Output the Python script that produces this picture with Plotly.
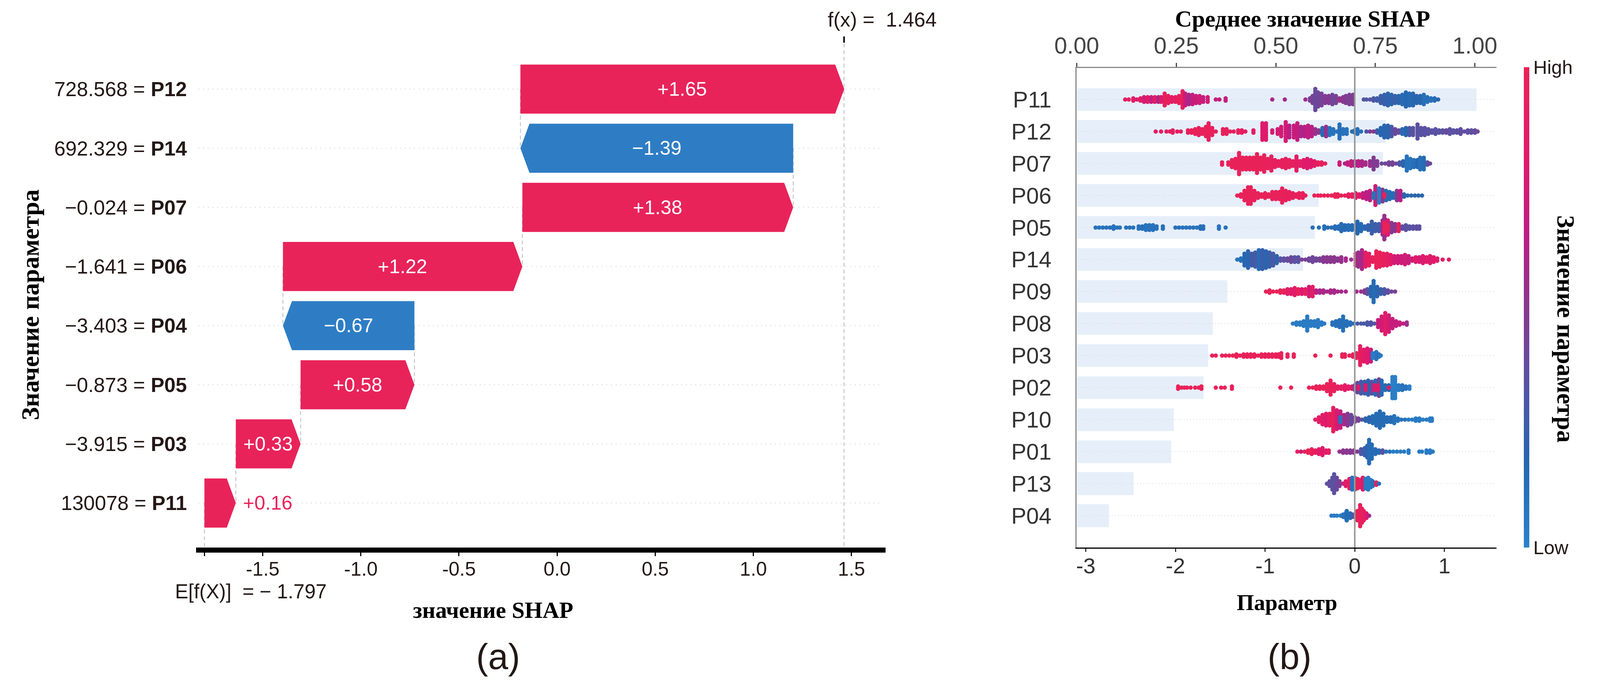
import plotly.graph_objects as go

W, H = 4443, 1786
RED, BLUE = "#e8235a", "#2e7dc4"
SANS, SERIF = "Liberation Sans", "Liberation Serif"

# ---------- panel (a): waterfall, top row first ----------
wf_features = ["P12", "P14", "P07", "P06", "P04", "P05", "P03", "P11"]
wf_feature_values = ["728.568", "692.329", "−0.024", "−1.641", "−3.403", "−0.873", "−3.915", "130078"]
wf_shap = [1.65, -1.39, 1.38, 1.22, -0.67, 0.58, 0.33, 0.16]
wf_labels = ["+1.65", "−1.39", "+1.38", "+1.22", "−0.67", "+0.58", "+0.33", "+0.16"]
base_value = -1.797
fx_value = 1.464
wf_ticks = [-1.5, -1.0, -0.5, 0.0, 0.5, 1.0, 1.5]
wf_ticktext = ["-1.5", "-1.0", "-0.5", "0.0", "0.5", "1.0", "1.5"]

# ---------- panel (b): summary, top row first ----------
rows = ["P11", "P12", "P07", "P06", "P05", "P14", "P09", "P08", "P03", "P02", "P10", "P01", "P13", "P04"]
mean_shap = [1.005, 0.777, 0.769, 0.608, 0.598, 0.569, 0.379, 0.342, 0.331, 0.319, 0.244, 0.237, 0.143, 0.081]
mean_ticks = [0, 0.25, 0.5, 0.75, 1.0]
shap_ticks = [-3, -2, -1, 0, 1]

P11_x = [-2.56,-2.52,-2.47,-2.43,-2.39,-2.35,-2.31,-2.27,-2.23,-2.19,-2.16,-2.12,-2.08,-2.04,-2.0,-1.96,-1.92,-1.89,-1.85,-1.81,-1.77,-1.73,-1.69,-1.64,-1.55,-1.51,-1.44,-0.92,-0.78,-0.55,-0.5,-0.47,-0.44,-0.41,-0.37,-0.33,-0.29,-0.25,-0.21,-0.17,-0.13,-0.1,-0.06,-0.02,0.1,0.13,0.17,0.21,0.25,0.29,0.33,0.37,0.41,0.45,0.49,0.53,0.57,0.61,0.65,0.69,0.73,0.77,0.81,0.85,0.89,0.93]
P11_n = [1,1,2,1,2,3,3,3,3,3,3,6,4,3,3,4,8,6,5,5,4,4,3,3,1,1,2,1,1,1,2,4,10,7,6,4,4,5,4,2,3,4,5,5,1,1,1,2,2,4,5,6,5,4,4,5,7,6,6,4,4,5,3,2,2,1]
P11_c = [.85,.9,.85,.8,.85,.75,.8,.7,.85,.6,.8,.95,.9,.9,.9,.95,.95,.7,.6,.7,.7,.75,.7,.75,.7,.7,.7,.6,.6,.55,.45,.45,.4,.42,.45,.48,.5,.42,.45,.55,.5,.48,.45,.48,.32,.32,.35,.3,.28,.25,.25,.2,.22,.25,.2,.15,.18,.15,.2,.18,.2,.12,.12,.12,.15,.2]

P12_x = [-2.22,-2.16,-2.1,-2.06,-2.03,-1.98,-1.94,-1.86,-1.82,-1.78,-1.74,-1.7,-1.66,-1.63,-1.59,-1.55,-1.47,-1.43,-1.39,-1.35,-1.3,-1.26,-1.22,-1.13,-1.03,-0.99,-0.92,-0.86,-0.82,-0.77,-0.73,-0.68,-0.64,-0.6,-0.56,-0.52,-0.48,-0.44,-0.4,-0.36,-0.32,-0.28,-0.24,-0.2,-0.17,-0.13,-0.09,-0.03,0,0.03,0.07,0.13,0.17,0.21,0.25,0.29,0.33,0.37,0.41,0.45,0.49,0.53,0.57,0.61,0.65,0.7,0.74,0.78,0.82,0.86,0.9,0.94,0.98,1.02,1.06,1.1,1.14,1.18,1.22,1.26,1.3,1.34,1.37]
P12_n = [1,1,1,1,2,1,1,2,2,3,4,3,5,8,4,1,3,3,1,1,2,2,1,2,8,8,2,3,5,9,6,6,8,5,5,6,5,3,2,4,5,4,3,1,7,3,3,1,2,3,1,1,1,1,2,4,6,6,5,3,2,3,4,4,4,7,4,4,3,2,3,2,2,2,3,2,2,3,1,2,2,2,1]
P12_c = [.85,.88,.9,.9,.92,.9,.9,.98,.98,.98,.95,.95,.95,.95,.96,.95,.95,.95,.9,.9,.95,.9,.9,.85,.8,.8,.75,.75,.75,.75,.65,.7,.7,.6,.65,.68,.65,.55,.5,.15,.55,.1,.1,.1,.12,.1,.1,.15,.15,.12,.12,.3,.5,.5,.25,.18,.2,.2,.3,.4,.4,.15,.2,.3,.35,.35,.35,.35,.35,.35,.35,.35,.35,.4,.35,.35,.35,.38,.35,.38,.35,.4,.4]

P07_x = [-1.48,-1.41,-1.37,-1.33,-1.29,-1.25,-1.21,-1.17,-1.13,-1.09,-1.05,-1.01,-0.97,-0.93,-0.89,-0.85,-0.81,-0.77,-0.73,-0.69,-0.65,-0.61,-0.57,-0.53,-0.49,-0.45,-0.41,-0.37,-0.33,-0.17,-0.11,-0.08,-0.04,0,0.04,0.08,0.12,0.17,0.21,0.25,0.3,0.34,0.38,0.42,0.46,0.5,0.54,0.58,0.62,0.66,0.7,0.73,0.77,0.81,0.84]
P07_n = [2,2,4,5,10,6,6,6,6,9,6,8,5,7,4,3,4,5,4,3,7,3,4,5,4,3,2,2,1,2,1,2,3,3,3,3,2,3,6,3,1,1,2,2,1,2,3,7,5,4,4,6,6,2,1]
P07_c = [.95,.98,.98,.98,.98,.98,.98,.98,.98,.98,.98,.97,.97,.95,.93,.93,.93,.95,.93,.93,.88,.9,.8,.8,.8,.85,.93,.95,.93,.72,.6,.7,.7,.6,.65,.6,.6,.55,.48,.48,.42,.42,.42,.45,.4,.3,.2,.1,.1,.12,.2,.12,.15,.35,.4]

P06_x = [-1.31,-1.27,-1.23,-1.19,-1.16,-1.12,-1.08,-1.04,-1,-0.96,-0.92,-0.88,-0.84,-0.81,-0.77,-0.73,-0.69,-0.65,-0.62,-0.58,-0.55,-0.45,-0.41,-0.38,-0.34,-0.3,-0.26,-0.22,-0.19,-0.15,-0.11,-0.07,-0.03,0.01,0.05,0.09,0.13,0.17,0.23,0.27,0.31,0.35,0.39,0.43,0.47,0.51,0.55,0.59,0.63,0.67,0.71,0.75,0.21,0.27,0.33]
P06_n = [1,2,5,8,8,5,3,2,3,2,4,4,4,7,5,4,3,2,3,3,1,1,1,1,1,1,1,2,2,1,1,2,2,3,2,3,4,5,9,6,6,5,4,3,5,5,2,1,1,1,1,1,3,7,2]
P06_c = [.98,.98,.98,.98,.98,.98,.98,.98,.98,.98,.97,.97,.98,.97,.95,.95,.95,.95,.97,.95,.95,.98,.98,.98,.98,.98,1,1,1,.95,.95,.93,.93,.85,.8,.7,.65,.65,.72,.4,.5,.15,.15,.15,.5,.65,.2,.2,.2,.2,.2,.2,.1,.03,.98]

P05_x = [-2.89,-2.85,-2.81,-2.77,-2.73,-2.69,-2.65,-2.62,-2.55,-2.51,-2.47,-2.41,-2.37,-2.33,-2.29,-2.25,-2.21,-2.14,-2.0,-1.96,-1.92,-1.88,-1.84,-1.8,-1.76,-1.72,-1.69,-1.515,-1.44,-0.47,-0.4,-0.34,-0.3,-0.26,-0.22,-0.18,-0.15,-0.11,-0.07,-0.03,0.03,0.07,0.11,0.15,0.19,0.23,0.27,0.3,0.31,0.34,0.33,0.37,0.41,0.45,0.49,0.53,0.57,0.61,0.65,0.69,0.72,0.33,0.37]
P05_n = [1,1,1,1,1,2,1,1,1,1,1,2,2,3,3,3,2,2,1,1,1,1,1,1,1,2,2,2,1,1,1,2,1,1,2,2,4,3,3,3,6,4,2,3,6,4,4,2,7,8,11,7,5,4,4,2,3,2,2,2,2,5,3]
P05_c = [.1,.1,.1,.1,.12,.1,.1,.1,.1,.1,.1,.1,.12,.1,.1,.1,.1,.12,.12,.12,.1,.1,.1,.1,.1,.12,.12,.1,.1,.12,.12,.12,.15,.15,.15,.15,.15,.16,.15,.15,.18,.16,.2,.22,.25,.25,.28,.3,.6,.7,.55,.8,.5,.5,.95,.38,.35,.35,.35,.38,.35,.98,.98]

P14_x = [-1.31,-1.27,-1.23,-1.19,-1.15,-1.11,-1.07,-1.03,-0.99,-0.95,-0.91,-0.87,-0.83,-0.79,-0.75,-0.71,-0.67,-0.63,-0.59,-0.55,-0.51,-0.47,-0.43,-0.39,-0.35,-0.31,-0.27,-0.23,-0.19,-0.15,-0.1,-0.04,0.01,0.04,0.08,0.12,0.16,0.2,0.24,0.28,0.32,0.36,0.4,0.44,0.48,0.52,0.56,0.6,0.64,0.68,0.72,0.76,0.8,0.84,0.88,0.92,0.98,1.05]
P14_n = [1,2,6,8,6,7,9,9,8,7,6,4,2,2,2,3,3,3,1,1,2,3,2,2,3,3,3,3,2,3,2,1,6,7,9,7,6,3,8,7,6,6,5,4,4,4,5,4,2,3,3,4,3,4,3,2,1,1]
P14_c = [.1,.12,.18,.2,.25,.3,.15,.25,.2,.25,.3,.2,.35,.35,.4,.4,.35,.35,.45,.45,.42,.42,.42,.45,.5,.5,.5,.52,.5,.55,.6,.55,.8,.55,.6,.9,.9,.95,.98,.98,.95,.9,.85,.75,.75,.72,.75,.7,.75,.8,.78,.78,.82,.8,.82,.85,.92,.9]

P09_x = [-0.99,-0.95,-0.91,-0.87,-0.83,-0.79,-0.75,-0.71,-0.67,-0.63,-0.59,-0.55,-0.51,-0.47,-0.43,-0.39,-0.35,-0.31,-0.27,-0.23,-0.19,-0.15,-0.1,0.02,0.07,0.11,0.14,0.18,0.21,0.25,0.29,0.33,0.37,0.41,0.45]
P09_n = [1,2,1,1,2,2,3,3,4,3,3,3,5,5,2,2,2,1,2,2,1,1,1,1,1,2,3,5,10,5,3,3,2,1,1]
P09_c = [.98,.98,.98,.98,.97,.97,.88,.85,.85,.95,.8,.9,.75,.85,.65,.6,.6,.6,.6,.6,.6,.6,.6,.6,.55,.5,.35,.2,.15,.2,.25,.3,.38,.42,.45]

P08_x = [-0.69,-0.65,-0.61,-0.57,-0.53,-0.49,-0.45,-0.41,-0.37,-0.34,-0.25,-0.21,-0.17,-0.13,-0.09,-0.05,-0.01,0.03,0.07,0.1,0.14,0.18,0.22,0.26,0.3,0.34,0.38,0.42,0.46,0.5,0.54,0.58]
P08_n = [1,2,2,3,7,3,3,4,2,1,2,3,4,7,3,2,1,1,1,1,2,2,1,4,7,10,8,5,3,2,1,2]
P08_c = [.05,.05,.05,.05,.05,.05,.05,.05,.05,.05,.12,.12,.12,.12,.12,.12,.15,.3,.28,.3,.3,.32,.35,.7,.75,.85,.75,.7,.7,.7,.7,.55]

P03_x = [-1.59,-1.55,-1.48,-1.44,-1.4,-1.36,-1.32,-1.28,-1.24,-1.2,-1.16,-1.12,-1.08,-1.04,-1,-0.96,-0.92,-0.88,-0.85,-0.82,-0.75,-0.68,-0.44,-0.27,-0.14,-0.11,-0.06,-0.02,0.02,0.06,0.1,0.14,0.18,0.24,0.27,0.29,0.2]
P03_n = [1,1,1,1,1,1,2,1,2,2,2,2,1,2,2,2,2,2,2,3,2,2,1,1,2,2,1,2,3,9,6,7,6,4,2,1,3]
P03_c = [.98,.98,.98,.98,.98,.98,.98,.97,.98,.98,.98,.98,.98,.98,.97,.98,.97,.98,.98,.97,.95,.98,.98,.98,.98,.98,.98,.95,.95,.9,.85,.8,.7,.1,.1,.05,.05]

P02_x = [-1.97,-1.93,-1.9,-1.87,-1.83,-1.78,-1.74,-1.71,-1.55,-1.49,-1.45,-1.37,-0.83,-0.71,-0.51,-0.47,-0.43,-0.39,-0.35,-0.31,-0.27,-0.23,-0.19,-0.15,-0.11,-0.07,-0.03,0,0.03,0.07,0.11,0.15,0.19,0.23,0.27,0.3,0.34,0.38,0.42,0.45,0.49,0.53,0.57,0.61,0.04,0.12,0.22,0.26,0.38]
P02_n = [2,1,1,1,1,1,1,2,1,1,1,2,1,1,1,1,2,2,2,4,7,4,2,2,3,2,2,3,5,6,6,7,6,7,8,7,3,3,10,10,3,3,2,2,2,3,3,3,1]
P02_c = [.98,.98,.98,.98,.98,.98,.98,.98,.98,.98,.98,.98,.98,.98,.98,.98,.98,.98,.98,.98,.98,.95,.95,.9,.85,.85,.8,.45,.4,.3,.25,.2,.4,.15,.45,.15,.15,.2,.02,.03,.05,.1,.1,.03,.8,.8,.8,.8,.9]

P10_x = [-0.44,-0.4,-0.36,-0.32,-0.28,-0.24,-0.2,-0.16,-0.12,-0.08,-0.04,0,0.04,0.08,0.12,0.16,0.2,0.24,0.28,0.32,0.36,0.4,0.44,0.48,0.52,0.56,0.6,0.64,0.68,0.72,0.76,0.8,0.84,0.86,-0.16]
P10_n = [1,3,5,6,6,11,9,8,5,6,5,3,2,1,2,3,4,6,8,6,3,3,4,2,1,1,1,1,2,2,1,1,2,2,3]
P10_c = [.9,.85,.85,.8,.9,.95,.75,.7,.6,.5,.4,.45,.45,.35,.2,.2,.15,.15,.15,.15,.15,.15,.1,.1,.1,.1,.05,.05,.05,.05,.05,.05,.05,.05,.1]

P01_x = [-0.64,-0.6,-0.56,-0.52,-0.48,-0.44,-0.4,-0.36,-0.32,-0.29,-0.17,-0.13,-0.09,-0.05,-0.01,0.03,0.07,0.11,0.14,0.16,0.19,0.23,0.27,0.31,0.35,0.39,0.43,0.47,0.51,0.55,0.6,0.72,0.75,0.8,0.84,0.87]
P01_n = [1,1,1,2,3,2,3,4,2,2,1,2,2,2,2,1,3,4,6,11,7,3,2,2,1,1,1,1,1,1,2,1,1,2,2,1]
P01_c = [.95,.7,.98,.98,.98,.9,.85,.8,.85,.9,.55,.5,.5,.5,.5,.5,.3,.25,.2,.15,.15,.15,.15,.35,.1,.1,.05,.05,.05,.05,.05,.05,.05,.05,.05,.05]

P13_x = [-0.31,-0.28,-0.25,-0.23,-0.2,-0.17,-0.13,-0.1,-0.06,-0.03,0,0.03,0.06,0.09,0.12,0.15,0.18,0.2,0.24,0.27]
P13_n = [1,3,6,9,6,3,1,3,5,6,6,5,4,6,5,6,4,3,2,1]
P13_c = [.35,.38,.35,.35,.4,.45,.7,.85,.9,.1,.1,.95,.95,.8,.05,.05,.05,.1,.95,.1]

P04_x = [-0.26,-0.23,-0.2,-0.16,-0.13,-0.1,-0.09,-0.05,-0.02,0.01,0.03,0.06,0.08,0.1,0.13,0.16]
P04_n = [1,1,1,1,2,3,5,3,2,2,5,10,7,5,3,1]
P04_c = [.05,.05,.05,.05,.1,.1,.15,.15,.3,.5,.95,.95,.95,.9,.8,.6]

swarm_x = [P11_x,P12_x,P07_x,P06_x,P05_x,P14_x,P09_x,P08_x,P03_x,P02_x,P10_x,P01_x,P13_x,P04_x]
swarm_n = [P11_n,P12_n,P07_n,P06_n,P05_n,P14_n,P09_n,P08_n,P03_n,P02_n,P10_n,P01_n,P13_n,P04_n]
swarm_c = [P11_c,P12_c,P07_c,P06_c,P05_c,P14_c,P09_c,P08_c,P03_c,P02_c,P10_c,P01_c,P13_c,P04_c]

SCALE = [[0,"#2b82cb"],[.18,"#2567b0"],[.35,"#5a52a2"],[.5,"#88388f"],[.65,"#b91f85"],[.8,"#df1a6c"],[1,"#ea2257"]]

def fx(p): return p / W
def fy(p): return 1 - p / H

fig = go.Figure()

# ---- panel (a) ----
A = dict(xaxis="x", yaxis="y", showlegend=False, hoverinfo="skip")
HALF, HEAD = 0.415, 0.046
n = len(wf_shap)
ends = []
cur = base_value
for v in reversed(wf_shap):
    ends.append((cur, cur + v))
    cur += v
ends = ends[::-1]

for i in range(n):
    fig.add_trace(go.Scatter(x=[-1.827, 1.646], y=[i, i], mode="lines",
                             line=dict(color="#d4d4d4", width=2.5, dash="2px,10px"), **A))
CONN = dict(color="#c4c8c8", width=2.5, dash="10px,7px")
for i in range(n - 1):
    fig.add_trace(go.Scatter(x=[ends[i][0]] * 2, y=[i, i + 1], mode="lines", line=CONN, **A))
fig.add_trace(go.Scatter(x=[fx_value - 0.002] * 2, y=[-0.77, 7.76], mode="lines", line=CONN, **A))
fig.add_trace(go.Scatter(x=[base_value] * 2, y=[n - 1, 7.76], mode="lines", line=CONN, **A))
fig.add_trace(go.Scatter(x=[fx_value - 0.002] * 2, y=[-0.89, -0.785], mode="lines",
                         line=dict(color="#000", width=4), **A))
for i, (s, e) in enumerate(ends):
    if wf_shap[i] > 0:
        flat = max(s, e - HEAD)
    else:
        flat = min(s, e + HEAD)
    xs = [s, flat, e, flat, s, s]
    ys = [i - HALF, i - HALF, i, i + HALF, i + HALF, i - HALF]
    fig.add_trace(go.Scatter(x=xs, y=ys, mode="lines", fill="toself",
                             fillcolor=RED if wf_shap[i] > 0 else BLUE,
                             line=dict(width=0), **A))

annos = []
for i, (s, e) in enumerate(ends):
    if abs(wf_shap[i]) > 0.2:
        annos.append(dict(x=(s + e) / 2, y=i, xref="x", yref="y", text=wf_labels[i], showarrow=False,
                          font=dict(family=SANS, size=50, color="white")))
    else:
        annos.append(dict(x=e, y=i, xref="x", yref="y", text=wf_labels[i], showarrow=False, xanchor="left",
                          xshift=16, font=dict(family=SANS, size=50, color=RED)))

# ---- panel (b) ----
fig.add_trace(go.Bar(x=mean_shap, y=list(range(len(rows))), orientation="h", width=0.71,
                     marker=dict(color="#e6eff9", line=dict(width=0)),
                     xaxis="x2", yaxis="y2", showlegend=False, hoverinfo="skip"))
B = dict(xaxis="x3", yaxis="y2", showlegend=False, hoverinfo="skip")
for i in range(len(rows)):
    fig.add_trace(go.Scatter(x=[-3.09, 1.58], y=[i, i], mode="lines",
                             line=dict(color="#d8d8d8", width=2, dash="2px,6px"), **B))
DY = 0.0733
px, py, pc = [], [], []
for i in range(len(rows)):
    for xv, cnt, col in zip(swarm_x[i], swarm_n[i], swarm_c[i]):
        for k in range(cnt):
            px.append(xv)
            py.append(i + (k - (cnt - 1) / 2) * DY)
            pc.append(col)
fig.add_trace(go.Scatter(x=px, y=py, mode="markers",
                         marker=dict(size=11, color=pc, cmin=0, cmax=1, colorscale=SCALE, line=dict(width=0),
                                     colorbar=dict(x=fx(4231), xanchor="left", xpad=0, y=fy(1401), yanchor="bottom",
                                                   ypad=0, len=(1401 - 172) / H, lenmode="fraction", thickness=14,
                                                   thicknessmode="pixels", outlinewidth=0, tickmode="array",
                                                   tickvals=[0, 1], ticktext=["Low", "High"], ticks="",
                                                   tickfont=dict(family=SANS, size=49, color="#231815"))), **B))
fig.add_trace(go.Scatter(x=[0, 0], y=[-0.984, 13.996], mode="lines", line=dict(color="#999999", width=4), **B))

def text(t, x, y, size, family=SANS, bold=False, color="#231815", angle=0):
    annos.append(dict(xref="paper", yref="paper", x=fx(x), y=fy(y), text=f"<b>{t}</b>" if bold else t,
                      showarrow=False, textangle=angle, xanchor="center", yanchor="middle",
                      font=dict(family=family, size=size, color=color)))

text("f(x)\u00a0=\u00a0\u00a01.464", 2450, 50, 52)
text("E[f(X)]\u00a0\u00a0=\u00a0−\u00a01.797", 696, 1513, 51)
text("значение SHAP", 1369, 1561, 59, SERIF, True, "#000")
text("Значение параметра", 83, 780, 64, SERIF, True, "#000", -90)
text("(a)", 1383, 1680, 92)
text("Среднее значение SHAP", 3617, 48, 60, SERIF, True, "#000")
text("Параметр", 3574, 1541, 57, SERIF, True, "#000")
text("Значение параметра", 4348, 842, 63, SERIF, True, "#000", 90)
text("(b)", 3581, 1680, 92)

fig.update_layout(
    margin=dict(l=0, r=0, t=0, b=0), autosize=True, template=None,
    paper_bgcolor="white", plot_bgcolor="white", annotations=annos, bargap=0,
    xaxis=dict(domain=[fx(545), fx(2459)], range=[(545 - 1547) / 545, (2459 - 1547) / 545],
               anchor="y", showgrid=False, zeroline=False, showline=True, linewidth=13, linecolor="#000",
               ticks="outside", ticklen=9, tickwidth=3, tickcolor="#000", tickmode="array",
               tickvals=[base_value] + wf_ticks, ticktext=[""] + wf_ticktext, ticklabelstandoff=-10,
               tickfont=dict(family=SANS, size=50, color="#231815")),
    yaxis=dict(domain=[fy(1401), fy(93)], range=[(1401 - 228) / 151.3, (93 - 228) / 151.3],
               anchor="x", showgrid=False, zeroline=False, showline=False, ticks="", tickmode="array",
               tickvals=list(range(n)),
               ticktext=[f"{v} = <b>{f}</b>" for v, f in zip(wf_feature_values, wf_features)],
               ticklabelstandoff=23, tickfont=dict(family=SANS, size=52, color="#231815")),
    xaxis2=dict(domain=[fx(2990), fx(4156)], range=[0, (4156 - 2990) / 1105.6], anchor="y2", side="top",
                showgrid=False, zeroline=False, showline=True, linewidth=3, linecolor="#888",
                ticks="outside", ticklen=10, tickwidth=3, tickcolor="#444", tickmode="array",
                tickvals=mean_ticks, ticktext=["0.00", "0.25", "0.50", "0.75", "1.00"],
                tickfont=dict(family=SANS, size=59, color="#444")),
    xaxis3=dict(domain=[fx(2990), fx(4156)], range=[(2990 - 3762) / 249, (4156 - 3762) / 249], anchor="y2",
                overlaying="x2", side="bottom", showgrid=False, zeroline=False, showline=True, linewidth=3,
                linecolor="#000", ticks="outside", ticklen=8, tickwidth=3, tickcolor="#333", tickmode="array",
                tickvals=shap_ticks, ticktext=[str(t) for t in shap_ticks], ticklabelstandoff=-12,
                tickfont=dict(family=SANS, size=56, color="#333")),
    yaxis2=dict(domain=[fy(1401), fy(174)], range=[13.996, -0.984], anchor="x2", showgrid=False, zeroline=False,
                showline=True, linewidth=3, linecolor="#888", ticks="", tickmode="array",
                tickvals=list(range(len(rows))), ticktext=rows, ticklabelstandoff=50,
                tickfont=dict(family=SANS, size=58, color="#333")),
)
fig.write_html("out.html", default_width="100%", default_height="100vh", config={"displayModeBar": False},
               post_script="document.body.style.margin='0';document.documentElement.style.overflow='hidden';window.dispatchEvent(new Event('resize'));")
